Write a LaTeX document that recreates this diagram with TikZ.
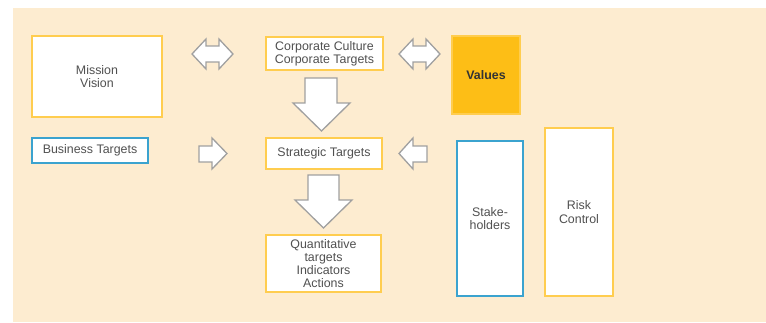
\documentclass[tikz,border=0pt]{standalone}
\usepackage{fontspec}
\setmainfont{Liberation Sans}
\definecolor{peach}{HTML}{FDECD0}
\definecolor{frameyellow}{HTML}{FFCD4F}
\definecolor{gold}{HTML}{FDBE16}
\definecolor{frameblue}{HTML}{3BA3CF}
\definecolor{labelgray}{HTML}{505050}
\definecolor{arrowgray}{HTML}{A0A0A0}
\begin{document}
\begin{tikzpicture}[x=1pt,y=-1pt,
  box/.style={draw=frameyellow, fill=white, line width=1.1pt, rectangle,
    inner sep=0pt, align=center, text=labelgray,
    font=\fontsize{12.4}{13.2}\selectfont},
  bluebox/.style={box, draw=frameblue},
  goldbox/.style={box, draw=frameyellow, fill=gold, text=black!80,
    font=\fontsize{12.4}{13.2}\selectfont\bfseries},
  blockarrow/.style={draw=arrowgray, fill=white, line width=1.3pt, line join=miter}]
\useasboundingbox (0,0) rectangle (766,322);
\fill[peach] (13,8) rectangle (766,322);

% boxes
\node[box, minimum width=130pt, minimum height=81pt] (mission) at (97,76.5) {Mission\\Vision};
\node[box, minimum width=117pt, minimum height=33pt] (culture) at (324.5,53.5) {Corporate Culture\\Corporate Targets};
\node[goldbox, minimum width=68pt, minimum height=78pt] (values) at (486,75) {Values};
\node[bluebox, minimum width=116pt, minimum height=25pt] (business) at (90,150.5) {\raisebox{-1pt}{Business Targets}};
\node[box, minimum width=116pt, minimum height=31pt] (strategic) at (324,153.5) {\raisebox{-1pt}{Strategic Targets}};
\node[box, minimum width=115pt, minimum height=57pt] (quant) at (323.5,263.5) {Quantitative\\targets\\Indicators\\Actions};
\node[bluebox, minimum width=66pt, minimum height=155pt] (stake) at (490,218.5) {Stake-\\holders};
\node[box, minimum width=68pt, minimum height=168pt] (risk) at (579,212) {Risk\\Control};

% double arrows between the top row
\draw[blockarrow] (192,54) -- (206,39) -- (206,46) -- (219,46) -- (219,39) -- (233,54)
  -- (219,69) -- (219,62) -- (206,62) -- (206,69) -- cycle;
\draw[blockarrow] (399,54) -- (413,39) -- (413,46) -- (426,46) -- (426,39) -- (440,54)
  -- (426,69) -- (426,62) -- (413,62) -- (413,69) -- cycle;

% downward arrows
\draw[blockarrow] (305,78) -- (337,78) -- (337,103) -- (350,103) -- (321.5,131)
  -- (293,103) -- (305,103) -- cycle;
\draw[blockarrow] (308,175) -- (339,175) -- (339,200) -- (352,200) -- (323.5,228)
  -- (295,200) -- (308,200) -- cycle;

% arrows into Strategic Targets
\draw[blockarrow] (199,146) -- (212,146) -- (212,138) -- (227,153.5) -- (212,169)
  -- (212,162) -- (199,162) -- cycle;
\draw[blockarrow] (427,146) -- (413,146) -- (413,138) -- (399,153.5) -- (413,169)
  -- (413,162) -- (427,162) -- cycle;
\end{tikzpicture}
\end{document}
